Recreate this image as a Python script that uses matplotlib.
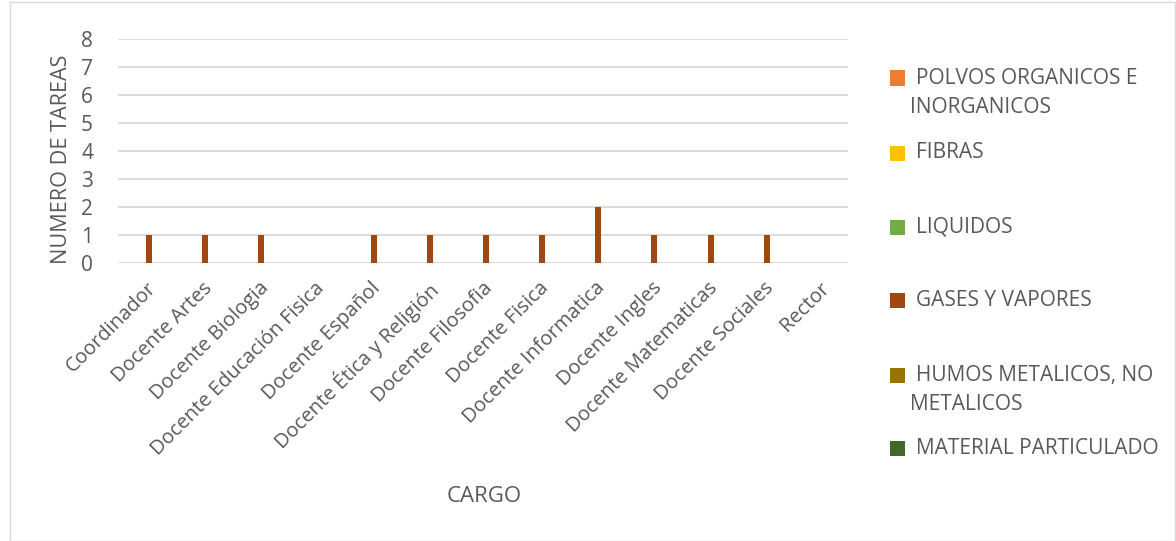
import matplotlib
matplotlib.use("Agg")
import matplotlib.pyplot as plt
from matplotlib.patches import Rectangle
import numpy as np

categories = ["Coordinador", "Docente Artes", "Docente Biologia", "Docente Educación Fisica",
              "Docente Español", "Docente Ética y Religión", "Docente Filosofia", "Docente Fisica",
              "Docente Informatica", "Docente Ingles", "Docente Matematicas", "Docente Sociales", "Rector"]
series_names = ["POLVOS ORGANICOS E\nINORGANICOS", "FIBRAS", "LIQUIDOS", "GASES Y VAPORES",
                "HUMOS METALICOS, NO\nMETALICOS", "MATERIAL PARTICULADO"]
polvos = [0]*13
fibras = [0]*13
liquidos = [0]*13
gases = [1, 1, 1, 0, 1, 1, 1, 1, 2, 1, 1, 1, 0]
humos = [0]*13
material = [0]*13
series_values = [polvos, fibras, liquidos, gases, humos, material]
colors = ["#ED7D31", "#FFC000", "#70AD47", "#9E480E", "#997300", "#43682B"]

plt.rcParams['font.family'] = ['Open Sans', 'DejaVu Sans']
txt = "#595959"
W, H = 1176, 541

fig = plt.figure(figsize=(11.76, 5.41), dpi=100)
fig.patches.append(Rectangle((10/W, 0.0), 1 - 11/W, 1 - 2/H, transform=fig.transFigure,
                             fill=False, edgecolor="#d9d9d9", linewidth=1))
ax = fig.add_axes([118/W, 1 - 263/H, (848-118)/W, (263-39)/H])

x = np.arange(len(categories))
n = len(series_values)
w = 0.107
for i, (vals, c) in enumerate(zip(series_values, colors)):
    ax.bar(x + (i - (n-1)/2) * w, vals, width=w, color=c, label=series_names[i], zorder=3)

ax.set_xlim(-0.5, len(categories) - 0.5)
ax.set_ylim(0, 8)
ax.set_yticks(range(0, 9))
ax.grid(axis='y', color="#d9d9d9", linewidth=1.3, zorder=0)
for s in ax.spines.values():
    s.set_visible(False)
ax.tick_params(axis='both', length=0, colors=txt)
ax.tick_params(axis='y', pad=18, labelsize=15)
ax.set_xticks(x)
ax.set_xticklabels(categories, rotation=45, ha='right', rotation_mode='anchor', fontsize=14.5)
ax.tick_params(axis='x', pad=11)
ax.set_xlabel("CARGO", fontsize=16, color=txt)
ax.set_ylabel("NUMERO DE TAREAS", fontsize=15.6, color=txt)
ax.xaxis.set_label_coords((484-118)/(848-118), (263-486)/(263-39))
ax.yaxis.set_label_coords((72-118)/(848-118), (263-159)/(263-39))

# legend (Excel-like irregular spacing)
leg_y = [78, 153, 227, 300, 375, 448]
for name, c, yy in zip(series_names, colors, leg_y):
    fig.patches.append(Rectangle((890/W, 1 - (yy + 7.5)/H), 15/W, 15/H, transform=fig.transFigure,
                                 facecolor=c, edgecolor='none'))
    lines = name.split("\n")
    fig.text(916/W, 1 - yy/H, lines[0], fontsize=15, color=txt, va='center', ha='left')
    if len(lines) > 1:
        fig.text(910/W, 1 - (yy + 29)/H, lines[1], fontsize=15, color=txt, va='center', ha='left')

fig.savefig("out.png", dpi=100)
